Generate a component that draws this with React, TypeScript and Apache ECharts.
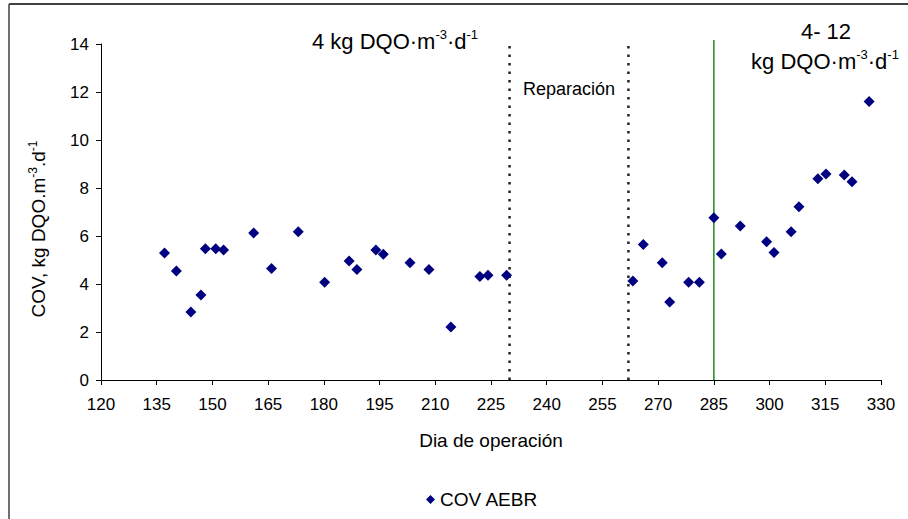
import React, { useEffect, useRef } from "react";
import * as echarts from "echarts";

const days = [137.1, 140.3, 144.2, 146.9, 148.1, 150.9, 153.0, 161.1, 165.9, 173.1, 180.2, 186.8, 188.9, 194.0, 196.0, 203.2, 208.3, 214.2, 222.0, 224.2, 229.2, 263.2, 266.0, 271.1, 273.1, 278.2, 281.1, 285.0, 287.0, 292.1, 299.2, 301.2, 305.8, 307.9, 313.0, 315.2, 320.1, 322.2, 326.8];
const cov = [5.29, 4.54, 2.83, 3.54, 5.47, 5.47, 5.42, 6.13, 4.65, 6.18, 4.07, 4.96, 4.6, 5.42, 5.24, 4.89, 4.6, 2.21, 4.31, 4.36, 4.36, 4.12, 5.65, 4.89, 3.25, 4.07, 4.07, 6.76, 5.25, 6.42, 5.76, 5.31, 6.18, 7.22, 8.39, 8.58, 8.54, 8.26, 11.6];
const dottedDays = [230, 262];
const dottedTop = 14.08;
const greenDay = 285;
const greenTop = 14.17;
const seriesName = "COV AEBR";
const xName = "Dia de operación";

const ARIAL = "'Liberation Sans', Arial, sans-serif";

export default function App() {
  const ref = useRef<HTMLDivElement>(null);
  useEffect(() => {
    if (!ref.current) return;
    const chart = echarts.init(ref.current, undefined, { renderer: "svg" });
    const data = days.map((d, i) => [d, cov[i]]);
    const supRich = (fs: number, sfs: number, lh: number) => ({
      n: { fontSize: fs, lineHeight: lh, fontFamily: ARIAL, fill: "#000" },
      s: { fontSize: sfs, lineHeight: Math.round(lh * 0.55), verticalAlign: "top", fontFamily: ARIAL, fill: "#000" },
    });
    const vline = (d: number, top: number, style: any) => ({
      type: "line",
      data: [[d, 0], [d, top]],
      showSymbol: false,
      symbol: "none",
      silent: true,
      clip: false,
      lineStyle: style,
      z: 1,
    });
    chart.setOption({
      animation: false,
      backgroundColor: "#fff",
      grid: { left: 101, right: 27, top: 44, bottom: 139, containLabel: false },
      legend: {
        data: [{ name: seriesName, icon: "diamond" }],
        left: 421,
        top: 485,
        itemWidth: 9,
        itemHeight: 9,
        itemGap: 5,
        textStyle: { fontFamily: ARIAL, fontSize: 19, color: "#000" },
      },
      xAxis: {
        type: "value",
        min: 120,
        max: 330,
        interval: 15,
        name: xName,
        nameLocation: "middle",
        nameGap: 51,
        nameTextStyle: { fontFamily: ARIAL, fontSize: 19, color: "#000" },
        axisLine: { show: true, lineStyle: { color: "#000", width: 1 } },
        axisTick: { show: true, length: 5, lineStyle: { color: "#000" } },
        axisLabel: { fontFamily: ARIAL, fontSize: 17, color: "#000", margin: 16 },
        splitLine: { show: false },
      },
      yAxis: {
        type: "value",
        min: 0,
        max: 14,
        interval: 2,
        axisLine: { show: true, lineStyle: { color: "#000", width: 1 } },
        axisTick: { show: true, length: 5, lineStyle: { color: "#000" } },
        axisLabel: { fontFamily: ARIAL, fontSize: 17, color: "#000", margin: 12 },
        splitLine: { show: false },
      },
      series: [
        ...dottedDays.map((d) => vline(d, dottedTop, { color: "#222", width: 2.5, type: [2.5, 6] })),
        vline(greenDay, greenTop, { color: "#1a8c1a", width: 1.5, type: "solid" }),
        {
          name: seriesName,
          type: "scatter",
          symbol: "diamond",
          symbolSize: 11,
          itemStyle: { color: "#000080", opacity: 1 },
          data,
          z: 3,
        },
      ],
      graphic: [
        { type: "line", shape: { x1: 9, y1: 4, x2: 908, y2: 4 }, style: { stroke: "#404040", lineWidth: 2 } },
        { type: "line", shape: { x1: 9, y1: 4, x2: 9, y2: 519 }, style: { stroke: "#404040", lineWidth: 1.5 } },
        {
          type: "text",
          x: 38,
          y: 229,
          rotation: Math.PI / 2,
          style: {
            text: "{n|COV, kg DQO.m}{s|-3}{n|.d}{s|-1}",
            align: "center",
            verticalAlign: "middle",
            rich: supRich(19, 12, 22),
          },
        },
        {
          type: "text",
          x: 395,
          y: 41,
          style: {
            text: "{n|4 kg DQO·m}{s|-3}{n|·d}{s|-1}",
            align: "center",
            verticalAlign: "middle",
            rich: supRich(22, 13, 26),
          },
        },
        {
          type: "text",
          x: 826,
          y: 31,
          style: { text: "4- 12", align: "center", verticalAlign: "middle", font: `22px ${ARIAL}`, fill: "#000" },
        },
        {
          type: "text",
          x: 825,
          y: 61,
          style: {
            text: "{n|kg DQO·m}{s|-3}{n|·d}{s|-1}",
            align: "center",
            verticalAlign: "middle",
            rich: supRich(22, 13, 26),
          },
        },
        {
          type: "text",
          x: 569,
          y: 89,
          style: { text: "Reparación", align: "center", verticalAlign: "middle", font: `18px ${ARIAL}`, fill: "#000" },
        },
      ],
    });
    return () => chart.dispose();
  }, []);
  return <div ref={ref} style={{ width: 908, height: 519, position: "absolute", left: 0, top: 0 }} />;
}
